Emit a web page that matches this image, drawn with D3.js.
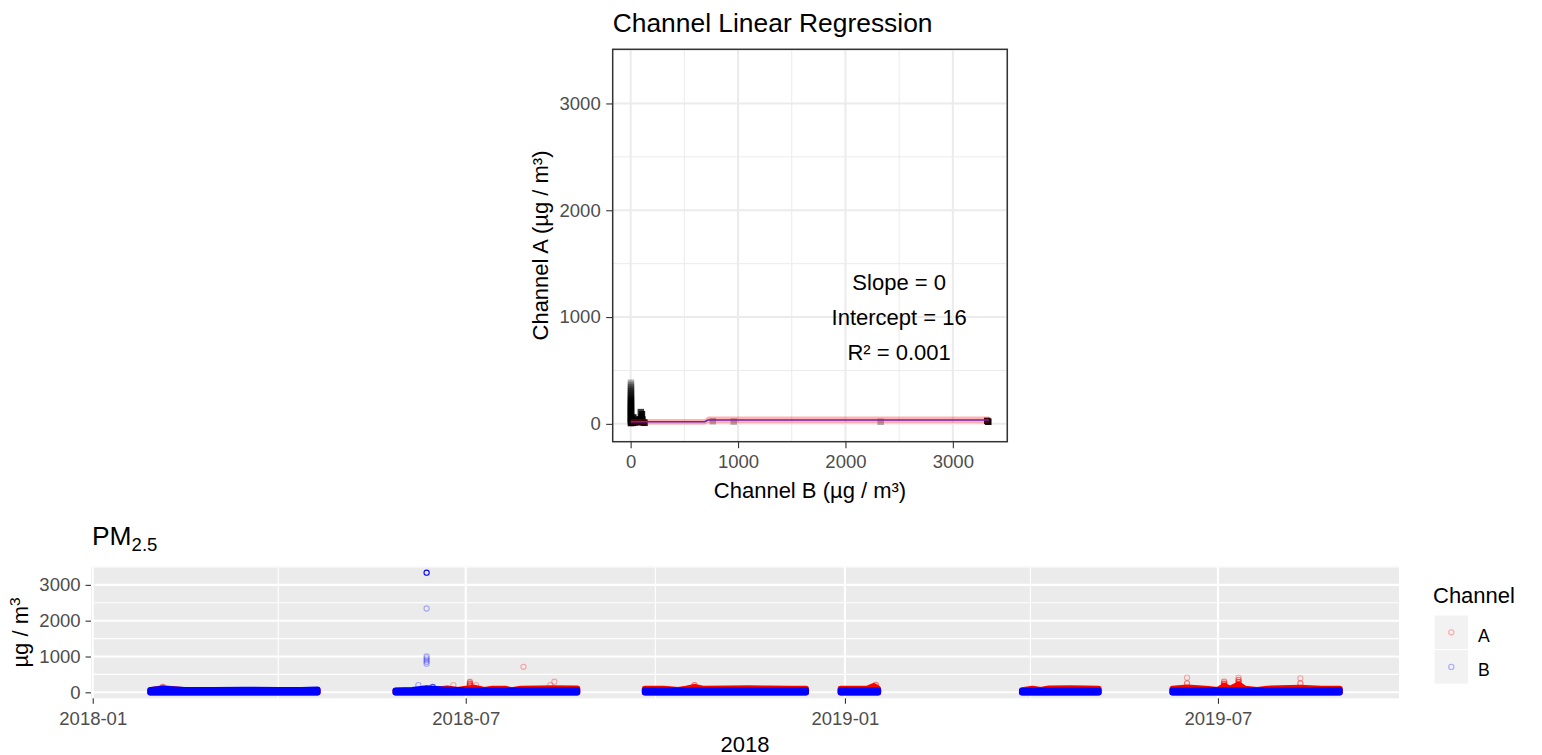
<!DOCTYPE html>
<html>
<head>
<meta charset="utf-8">
<script src="https://cdn.jsdelivr.net/npm/d3@7"></script>
<style>
  body { margin: 0; background: #fff; }
  text { font-family: "Liberation Sans", Arial, sans-serif; }
</style>
</head>
<body>
<svg id="chart" width="1542" height="755"></svg>
<script>
// ---- data: top scatter (Channel B vs Channel A), n = overlapping points
const scatterB = [3, 3, 3, 3, 3, 3, 3, 3, 3, 3, 3, 3, 3, 3, 3, 3, 3, 3, 3, 3,
  20, 40, 60, 80, 100, 120, 130, 95, 105, 100, 90, 110, 25, 50,
  765, 960, 2328, 3320, 3330];
const scatterA = [385, 365, 345, 325, 305, 285, 265, 245, 225, 205, 185, 165, 145, 125, 105, 85, 65, 45, 25, 8,
  10, 15, 20, 15, 20, 15, 10, 110, 90, 60, 45, 40, 60, 40,
  25, 22, 20, 28, 20];
const scatterN = [1, 1, 1, 2, 2, 2, 3, 3, 4, 5, 6, 8, 8, 10, 10, 10, 10, 10, 10, 10,
  10, 10, 10, 10, 10, 8, 5, 4, 6, 8, 8, 6, 6, 8,
  1, 1, 1, 10, 8];

// smooth fit drawn over the scatter: [B, lower, upper, fit]
const fitB = [0, 690, 720, 3340];
const fitLo = [-5, -5, 5, 5];
const fitHi = [45, 45, 68, 68];
const fitMid = [20, 20, 36, 36];
const fitLabels = ["Slope = 0", "Intercept = 16", "R\u00b2 = 0.001"];
const fitLabelAt = [2500, 1000];

// ---- data: PM2.5 time series, dense readings as upper envelope (null = gap)
const bandA = [
  ["2018-01-29", 50], ["2018-02-04", 110], ["2018-02-15", 50], ["2018-03-01", 45], ["2018-03-15", 55], ["2018-04-01", 50], ["2018-04-20", 55], null,
  ["2018-05-28", 40], ["2018-06-15", 50], ["2018-06-22", 100], ["2018-06-27", 60], ["2018-07-01", 95], ["2018-07-05", 120], ["2018-07-10", 60],
  ["2018-07-14", 95], ["2018-07-20", 95], ["2018-07-23", 55], ["2018-07-28", 95], ["2018-08-05", 100], ["2018-08-12", 110], ["2018-08-24", 100], null,
  ["2018-09-26", 90], ["2018-10-05", 95], ["2018-10-12", 60], ["2018-10-16", 95], ["2018-10-20", 140], ["2018-10-24", 95], ["2018-11-05", 100],
  ["2018-11-15", 105], ["2018-11-25", 100], ["2018-12-05", 95], ["2018-12-13", 90], null,
  ["2018-12-30", 95], ["2019-01-12", 100], ["2019-01-15", 170], ["2019-01-17", 100], null,
  ["2019-03-28", 50], ["2019-04-02", 95], ["2019-04-06", 60], ["2019-04-10", 100], ["2019-04-20", 105], ["2019-04-28", 100], ["2019-05-04", 95], null,
  ["2019-06-09", 90], ["2019-06-16", 130], ["2019-06-25", 95], ["2019-07-01", 60], ["2019-07-04", 170], ["2019-07-07", 95],
  ["2019-07-11", 210], ["2019-07-14", 95], ["2019-07-20", 60], ["2019-07-25", 95], ["2019-08-10", 120], ["2019-08-20", 95], ["2019-08-29", 95]
];
const bandB = [
  ["2018-01-29", 55], ["2018-02-04", 90], ["2018-02-15", 60], ["2018-03-01", 55], ["2018-03-15", 65], ["2018-04-01", 55], ["2018-04-12", 60], ["2018-04-20", 70], null,
  ["2018-05-28", 45], ["2018-06-05", 60], ["2018-06-12", 110], ["2018-06-20", 70], ["2018-07-01", 50], ["2018-07-20", 45], ["2018-08-10", 50], ["2018-08-24", 55], null,
  ["2018-09-26", 50], ["2018-10-15", 45], ["2018-11-05", 50], ["2018-11-25", 45], ["2018-12-13", 50], null,
  ["2018-12-30", 50], ["2019-01-17", 50], null,
  ["2019-03-28", 40], ["2019-04-15", 45], ["2019-05-04", 45], null,
  ["2019-06-09", 45], ["2019-07-01", 50], ["2019-07-25", 45], ["2019-08-15", 50], ["2019-08-29", 55]
];
// single readings that stand out: [date, value, n]
const outA = [
  ["2018-02-04", 150, 2], ["2018-06-25", 200, 1],
  ["2018-07-03", 290, 2], ["2018-07-03", 240, 3], ["2018-07-03", 190, 4], ["2018-07-06", 200, 1],
  ["2018-07-29", 713, 1], ["2018-08-11", 200, 1], ["2018-08-13", 295, 1],
  ["2018-10-20", 200, 2], ["2019-01-16", 210, 2],
  ["2019-06-16", 410, 1], ["2019-06-16", 250, 2],
  ["2019-07-04", 300, 2], ["2019-07-04", 240, 3], ["2019-07-04", 190, 4],
  ["2019-07-11", 410, 1], ["2019-07-11", 350, 2], ["2019-07-11", 290, 3], ["2019-07-11", 230, 3],
  ["2019-08-10", 390, 1], ["2019-08-10", 250, 2]
];
const outB = [
  ["2018-06-08", 200, 1], ["2018-06-12", 3340, 12], ["2018-06-12", 2340, 1],
  ["2018-06-12", 1000, 1], ["2018-06-12", 950, 1], ["2018-06-12", 900, 1], ["2018-06-12", 850, 1], ["2018-06-12", 800, 1],
  ["2018-06-15", 150, 3]
];
const channels = ["A", "B"];
const channelColors = ["#ff0000", "#0000ff"];
const valueTicks = [0, 1000, 2000, 3000];
const valueMinor = [500, 1500, 2500, 3500];
const dateTicks = ["2018-01-01", "2018-07-01", "2019-01-01", "2019-07-01"];
const dateMinor = ["2017-10-01", "2018-04-01", "2018-10-01", "2019-04-01", "2019-10-01"];

const parse = d3.timeParse("%Y-%m-%d");
const svg = d3.select("#chart");
const ink = "#333333", tickInk = "#4d4d4d";
const alphaOf = (a, n) => 1 - Math.pow(1 - a, n);

// shared value limits (5% expansion like ggplot)
const maxVal = d3.max([...scatterA, ...scatterB, ...outB.map(d => d[1])]);
const lim = [-0.05 * maxVal, 1.05 * maxVal];

// ================= top: Channel Linear Regression =================
const T = { left: 612.7, right: 1007.3, top: 49.3, bottom: 441.7 };
const xT = d3.scaleLinear().domain(lim).range([T.left, T.right]);
const yT = d3.scaleLinear().domain(lim).range([T.bottom, T.top]);

svg.append("clipPath").attr("id", "clipT").append("rect")
  .attr("x", T.left).attr("y", T.top).attr("width", T.right - T.left).attr("height", T.bottom - T.top);

const gT = svg.append("g");
gT.append("rect").attr("x", T.left).attr("y", T.top)
  .attr("width", T.right - T.left).attr("height", T.bottom - T.top).attr("fill", "#fff");

const gridT = gT.append("g").attr("clip-path", "url(#clipT)");
[[valueMinor, 1], [valueTicks, 2]].forEach(([vals, w]) => {
  gridT.selectAll(null).data(vals).join("line")
    .attr("x1", d => xT(d)).attr("x2", d => xT(d)).attr("y1", T.top).attr("y2", T.bottom)
    .attr("stroke", "#ebebeb").attr("stroke-width", w);
  gridT.selectAll(null).data(vals).join("line")
    .attr("y1", d => yT(d)).attr("y2", d => yT(d)).attr("x1", T.left).attr("x2", T.right)
    .attr("stroke", "#ebebeb").attr("stroke-width", w);
});

const plotT = gT.append("g").attr("clip-path", "url(#clipT)");
const sq = 6.5;
plotT.selectAll("rect.pt").data(scatterB.map((b, i) => [b, scatterA[i], scatterN[i]]))
  .join("rect").attr("class", "pt")
  .attr("x", d => xT(d[0]) - sq / 2).attr("y", d => yT(d[1]) - sq / 2)
  .attr("width", sq).attr("height", sq)
  .attr("fill", "#000").attr("fill-opacity", d => alphaOf(0.3, d[2]));

const fitRows = fitB.map((b, i) => ({ b, lo: fitLo[i], hi: fitHi[i], mid: fitMid[i] }));
plotT.append("path").datum(fitRows)
  .attr("d", d3.line().x(d => xT(d.b)).y(d => yT(d.mid)))
  .attr("fill", "none").attr("stroke", "#3333ff").attr("stroke-width", 1.6);
plotT.append("path").datum(fitRows)
  .attr("d", d3.area().x(d => xT(d.b)).y0(d => yT(d.lo)).y1(d => yT(d.hi)))
  .attr("fill", "#ff0000").attr("fill-opacity", 0.3);

const lab = gT.append("text").attr("text-anchor", "middle")
  .attr("font-size", 22).attr("fill", "#000");
fitLabels.forEach((t, i) => {
  lab.append("tspan").attr("x", xT(fitLabelAt[0]))
    .attr("y", yT(fitLabelAt[1]) + (i - 1) * 35 + 7.5).text(t);
});

gT.append("rect").attr("x", T.left).attr("y", T.top)
  .attr("width", T.right - T.left).attr("height", T.bottom - T.top)
  .attr("fill", "none").attr("stroke", ink).attr("stroke-width", 1.5);

function styleAxis(g) {
  g.select(".domain").remove();
  g.selectAll(".tick line").attr("stroke", ink).attr("stroke-width", 1.1);
  g.selectAll(".tick text").attr("fill", tickInk).attr("font-size", 18.5)
    .attr("font-family", "Liberation Sans, Arial, sans-serif");
}
gT.append("g").attr("transform", `translate(0,${T.bottom})`)
  .call(d3.axisBottom(xT).tickValues(valueTicks).tickSize(6.5).tickPadding(7).tickFormat(d3.format("d")))
  .call(styleAxis);
gT.append("g").attr("transform", `translate(${T.left},0)`)
  .call(d3.axisLeft(yT).tickValues(valueTicks).tickSize(6.5).tickPadding(5.5).tickFormat(d3.format("d")))
  .call(styleAxis);

svg.append("text").attr("x", T.left).attr("y", 31.7).attr("font-size", 26.4).attr("fill", "#000")
  .text("Channel Linear Regression");
svg.append("text").attr("x", (T.left + T.right) / 2).attr("y", 498).attr("text-anchor", "middle")
  .attr("font-size", 22).attr("fill", "#000").text("Channel B (\u00b5g / m\u00b3)");
svg.append("text").attr("transform", `translate(548,${(T.top + T.bottom) / 2}) rotate(-90)`)
  .attr("text-anchor", "middle").attr("font-size", 22).attr("fill", "#000")
  .text("Channel A (\u00b5g / m\u00b3)");

// ================= bottom: PM2.5 time series =================
const B = { left: 91, right: 1399, top: 566.7, bottom: 698.3 };
const allDates = bandB.filter(d => d).map(d => parse(d[0]));
const d0 = d3.min(allDates), d1 = d3.max(allDates);
const span = d1 - d0;
const xB = d3.scaleTime().domain([new Date(+d0 - 0.05 * span), new Date(+d1 + 0.05 * span)]).range([B.left, B.right]);
const yB = d3.scaleLinear().domain(lim).range([B.bottom, B.top]);

svg.append("clipPath").attr("id", "clipB").append("rect")
  .attr("x", B.left).attr("y", B.top).attr("width", B.right - B.left).attr("height", B.bottom - B.top);

const gB = svg.append("g");
gB.append("rect").attr("x", B.left).attr("y", B.top)
  .attr("width", B.right - B.left).attr("height", B.bottom - B.top).attr("fill", "#ebebeb");

const gridB = gB.append("g").attr("clip-path", "url(#clipB)");
[[valueMinor, 1.1], [valueTicks, 2.1]].forEach(([vals, w]) => {
  gridB.selectAll(null).data(vals).join("line")
    .attr("y1", d => yB(d)).attr("y2", d => yB(d)).attr("x1", B.left).attr("x2", B.right)
    .attr("stroke", "#fff").attr("stroke-width", w);
});
[[dateMinor, 1.1], [dateTicks, 2.1]].forEach(([vals, w]) => {
  gridB.selectAll(null).data(vals.map(parse)).join("line")
    .attr("x1", d => xB(d)).attr("x2", d => xB(d)).attr("y1", B.top).attr("y2", B.bottom)
    .attr("stroke", "#fff").attr("stroke-width", w);
});

const plotB = gB.append("g").attr("clip-path", "url(#clipB)");
const band = d3.area().defined(d => d !== null)
  .x(d => xB(parse(d[0]))).y0(yB(0)).y1(d => yB(d[1]));
[bandA, bandB].forEach((rows, i) => {
  const out = i === 0 ? outA : outB;
  plotB.append("path").attr("d", band(rows))
    .attr("fill", channelColors[i]).attr("stroke", channelColors[i])
    .attr("stroke-width", 6.5).attr("stroke-linejoin", "round").attr("stroke-linecap", "round");
  plotB.selectAll(null).data(out).join("circle")
    .attr("cx", d => xB(parse(d[0]))).attr("cy", d => yB(d[1])).attr("r", 2.6)
    .attr("fill", "none").attr("stroke", channelColors[i]).attr("stroke-width", 1.1)
    .attr("stroke-opacity", d => alphaOf(0.3, d[2]));
});

gB.append("g").attr("transform", `translate(0,${B.bottom})`)
  .call(d3.axisBottom(xB).tickValues(dateTicks.map(parse)).tickSize(5.5).tickPadding(8).tickFormat(d3.timeFormat("%Y-%m")))
  .call(styleAxis);
gB.append("g").attr("transform", `translate(${B.left},0)`)
  .call(d3.axisLeft(yB).tickValues(valueTicks).tickSize(5.5).tickPadding(5).tickFormat(d3.format("d")))
  .call(styleAxis);

const pm = svg.append("text").attr("x", B.left + 1).attr("y", 545).attr("font-size", 26.4).attr("fill", "#000");
pm.append("tspan").text("PM");
pm.append("tspan").attr("font-size", 18.5).attr("dy", 6).text("2.5");

svg.append("text").attr("x", (B.left + B.right) / 2).attr("y", 751.5).attr("text-anchor", "middle")
  .attr("font-size", 22).attr("fill", "#000").text("2018");
const yl = svg.append("text").attr("transform", `translate(28,${(B.top + B.bottom) / 2}) rotate(-90)`)
  .attr("text-anchor", "middle").attr("font-size", 22).attr("fill", "#000");
yl.append("tspan").text("\u00b5g / m");
yl.append("tspan").attr("font-size", 15.5).attr("dy", -8).text("3");

// legend
const L = svg.append("g");
L.append("text").attr("x", 1433).attr("y", 603.3).attr("font-size", 22).attr("fill", "#000").text("Channel");
channels.forEach((c, i) => {
  const y0 = 615 + i * 34.6;
  L.append("rect").attr("x", 1434).attr("y", y0).attr("width", 34.6).attr("height", 34.6)
    .attr("fill", "#f2f2f2").attr("stroke", "#fff").attr("stroke-width", 1);
  L.append("circle").attr("cx", 1451.3).attr("cy", y0 + 17.3).attr("r", 2.6)
    .attr("fill", "none").attr("stroke", channelColors[i]).attr("stroke-width", 1.1).attr("stroke-opacity", 0.3);
  L.append("text").attr("x", 1478).attr("y", y0 + 26.5).attr("font-size", 17.6).attr("fill", "#000").text(c);
});
</script>
</body>
</html>
